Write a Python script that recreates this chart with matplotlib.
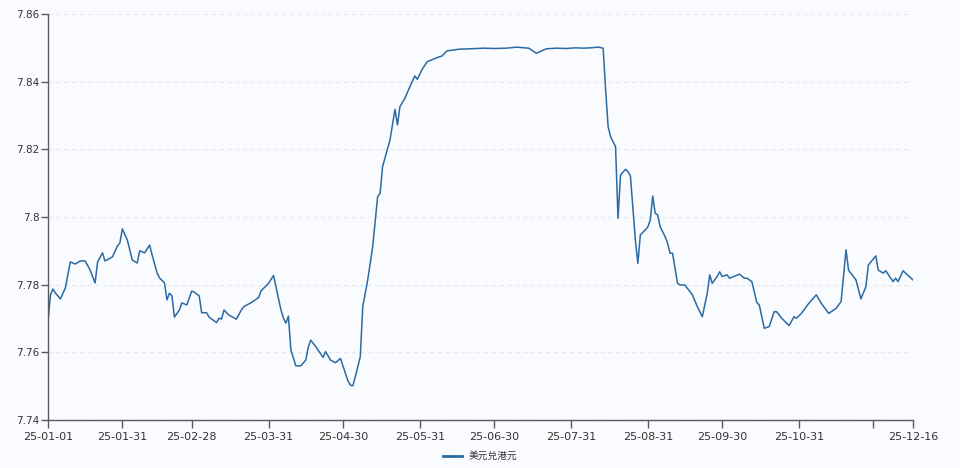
import matplotlib
matplotlib.use("Agg")
import matplotlib.pyplot as plt
import matplotlib.dates as mdates
import numpy as np
import pandas as pd

plt.rcParams['font.family'] = ['DejaVu Sans', 'Noto Sans CJK SC']

series_name = "美元兑港元"

# days since 2025-01-01
days = [0, 1, 2, 3, 5, 7, 9, 11, 13, 15, 17, 19, 20, 22, 23, 26, 28, 29, 30, 32,
        34, 36, 37, 39, 41, 42, 44, 45, 47, 48, 49, 50, 51, 53, 54, 56, 58, 59, 61, 62,
        64, 65, 68, 69, 70, 71, 73, 76, 78, 79, 82, 85, 86, 89, 91, 93, 94, 95, 96, 97,
        98, 100, 102, 104, 105, 106, 108, 111, 112, 114, 116, 118, 119, 121, 122, 123, 124, 126, 127, 129,
        131, 133, 134, 135, 138, 140, 141, 142, 144, 146, 148, 149, 151, 153, 157, 159, 161, 164, 166, 170,
        176, 180, 185, 189, 194, 197, 201, 205, 209, 213, 216, 219, 222, 224, 225, 226, 227, 229, 230, 231,
        233, 234, 235, 237, 238, 239, 241, 242, 243, 244, 245, 246, 247, 249, 250, 251, 252, 254, 255, 257,
        258, 260, 262, 264, 266, 267, 268, 270, 271, 272, 274, 275, 279, 281, 282, 284, 286, 287, 289, 291,
        293, 294, 296, 299, 301, 302, 304, 307, 310, 312, 315, 318, 320, 322, 323, 326, 328, 330, 331, 334,
        335, 337, 338, 341, 342, 343, 345, 349]

usd_hkd = [7.7690, 7.7770, 7.7787, 7.7775, 7.7758, 7.7790, 7.7867, 7.7861, 7.7870, 7.7870,
           7.7843, 7.7805, 7.7867, 7.7894, 7.7870, 7.7882, 7.7914, 7.7923, 7.7965, 7.7932,
           7.7873, 7.7864, 7.7900, 7.7894, 7.7917, 7.7888, 7.7835, 7.7820, 7.7805, 7.7755,
           7.7775, 7.7767, 7.7704, 7.7725, 7.7746, 7.7740, 7.7781, 7.7778, 7.7767, 7.7717,
           7.7717, 7.7704, 7.7688, 7.7701, 7.7698, 7.7725, 7.7710, 7.7698, 7.7725, 7.7735,
           7.7747, 7.7762, 7.7782, 7.7804, 7.7827, 7.7760, 7.7725, 7.7701, 7.7686, 7.7707,
           7.7607, 7.7560, 7.7560, 7.7577, 7.7615, 7.7636, 7.7617, 7.7585, 7.7602, 7.7577,
           7.7569, 7.7582, 7.7560, 7.7516, 7.7503, 7.7501, 7.7528, 7.7587, 7.7735, 7.7814,
           7.7912, 7.8060, 7.8070, 7.8149, 7.8228, 7.8318, 7.8272, 7.8326, 7.8351, 7.8385,
           7.8417, 7.8407, 7.8437, 7.8459, 7.8471, 7.8476, 7.8491, 7.8494, 7.8496, 7.8497,
           7.8499, 7.8498, 7.8499, 7.8502, 7.8499, 7.8484, 7.8497, 7.8499, 7.8498, 7.8500,
           7.8499, 7.8500, 7.8502, 7.8499, 7.8375, 7.8267, 7.8237, 7.8208, 7.7996, 7.8124,
           7.8141, 7.8134, 7.8121, 7.7932, 7.7863, 7.7947, 7.7962, 7.7970, 7.7991, 7.8062,
           7.8011, 7.8006, 7.7971, 7.7942, 7.7922, 7.7893, 7.7893, 7.7804, 7.7799, 7.7799,
           7.7789, 7.7770, 7.7735, 7.7705, 7.7775, 7.7829, 7.7804, 7.7824, 7.7838, 7.7824,
           7.7829, 7.7819, 7.7831, 7.7819, 7.7819, 7.7809, 7.7747, 7.7740, 7.7671, 7.7676,
           7.7720, 7.7720, 7.7701, 7.7679, 7.7705, 7.7701, 7.7715, 7.7745, 7.7770, 7.7745,
           7.7715, 7.7730, 7.7750, 7.7903, 7.7843, 7.7814, 7.7758, 7.7794, 7.7858, 7.7885,
           7.7843, 7.7834, 7.7841, 7.7809, 7.7819, 7.7809, 7.7841, 7.7814]

tick_dates = ["2025-01-01", "2025-01-31", "2025-02-28", "2025-03-31", "2025-04-30",
              "2025-05-31", "2025-06-30", "2025-07-31", "2025-08-31", "2025-09-30",
              "2025-10-31", "2025-11-30", "2025-12-16"]
tick_labels = ["25-01-01", "25-01-31", "25-02-28", "25-03-31", "25-04-30",
               "25-05-31", "25-06-30", "25-07-31", "25-08-31", "25-09-30",
               "25-10-31", "", "25-12-16"]
y_ticks = [7.74, 7.76, 7.78, 7.80, 7.82, 7.84, 7.86]
y_labels = ["7.74", "7.76", "7.78", "7.8", "7.82", "7.84", "7.86"]

dates = pd.Timestamp("2025-01-01") + pd.to_timedelta(days, unit="D")

bg = "#f9fbfe"
fig = plt.figure(figsize=(9.6, 4.68), dpi=100, facecolor=bg)
ax = fig.add_axes([0.05, 0.1026, 0.901, 0.8675], facecolor=bg)

line, = ax.plot(dates, usd_hkd, color="#2c6aa3", linewidth=1.1, label=series_name)

ax.set_xlim(pd.Timestamp("2025-01-01"), pd.Timestamp("2025-12-16"))
ax.set_ylim(7.74, 7.86)
ax.set_xticks(pd.to_datetime(tick_dates))
ax.set_xticklabels(tick_labels)
ax.set_yticks(y_ticks)
ax.set_yticklabels(y_labels)

for s in ["top", "right"]:
    ax.spines[s].set_visible(False)
for s in ["left", "bottom"]:
    ax.spines[s].set_color("#5a5a5a")
    ax.spines[s].set_linewidth(1.0)

ax.tick_params(axis="x", direction="out", length=6, width=1, color="#5a5a5a",
               labelsize=8, labelcolor="#333333", pad=3)
ax.tick_params(axis="y", direction="out", length=5, width=1, color="#5a5a5a",
               labelsize=7.5, labelcolor="#333333", pad=1)

ax.grid(axis="y", color="#e4e9f0", linestyle=(0, (4, 3)), linewidth=0.8)
ax.set_axisbelow(True)

leg = fig.legend(handles=[line], loc="center", bbox_to_anchor=(0.5, 0.025),
                 frameon=False, fontsize=7, handlelength=2.0, handletextpad=0.6,
                 prop={"family": ["Noto Sans CJK SC", "DejaVu Sans"], "size": 7})
for t in leg.get_texts():
    t.set_color("#333333")
leg.get_lines()[0].set_linewidth(2.0)

fig.savefig("out.png", dpi=100, facecolor=bg)
